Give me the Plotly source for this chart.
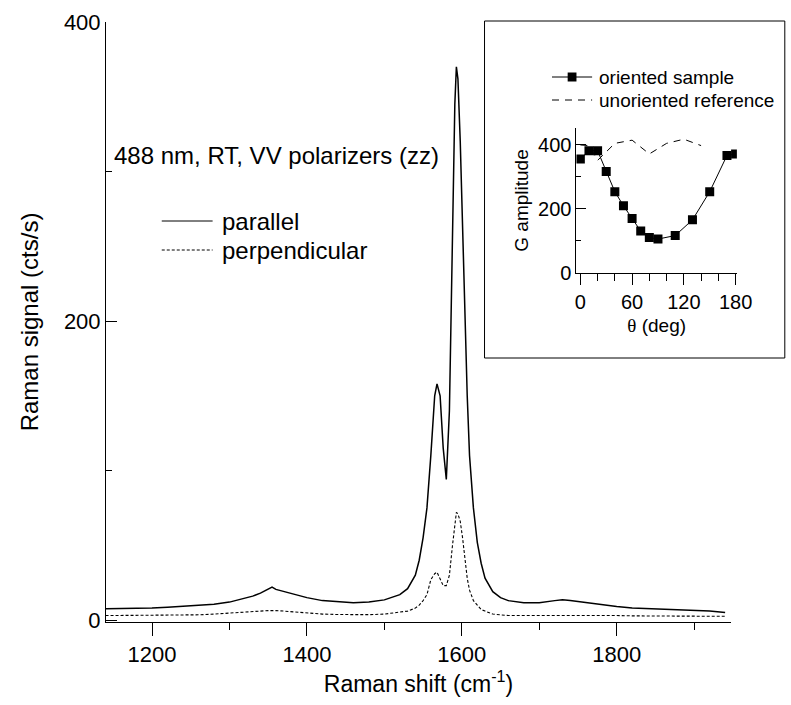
import plotly.graph_objects as go

# Raman spectra
shift = [1140, 1160, 1180, 1200, 1220, 1240, 1260, 1280, 1300, 1320, 1330, 1340,
         1350, 1355, 1360, 1370, 1380, 1400, 1420, 1440, 1460, 1480, 1500, 1520,
         1530, 1540, 1545, 1550, 1555, 1560, 1565, 1568, 1572, 1576, 1580, 1584,
         1588, 1591, 1593, 1595, 1598, 1601, 1604, 1607, 1610, 1615, 1620, 1625,
         1630, 1640, 1650, 1660, 1680, 1700, 1720, 1730, 1740, 1760, 1780, 1800,
         1820, 1840, 1860, 1880, 1900, 1920, 1940]
parallel = [7.5, 7.5, 7.8, 8, 8.5, 9, 9.5, 10.5, 12, 14.5, 16, 18,
            20.5, 22, 20.5, 19, 17.5, 15, 13, 12, 11.5, 12, 13.5, 17,
            21, 30, 40, 55, 75, 110, 150, 158, 150, 115, 94, 140,
            260, 345, 370, 362, 320, 260, 200, 150, 110, 75, 52, 38,
            28, 19, 15, 13, 11.5, 11.5, 13, 13.5, 13, 11.5, 10, 9,
            8, 7.5, 7, 7, 6.5, 6, 5]
perpendicular = [3, 3, 3, 3, 3.2, 3.4, 3.5, 4, 4.5, 5.2, 5.6, 6,
                 6.3, 6.5, 6.3, 6, 5.5, 4.8, 4, 3.7, 3.5, 3.6, 4, 5,
                 6, 8, 10, 13, 17, 27, 31, 32, 28, 23, 23, 30,
                 50, 66, 72, 71, 66, 55, 40, 28, 20, 13, 10, 7,
                 6, 4, 3.5, 3, 3, 3, 3.2, 3.5, 3.3, 3.1, 3, 3,
                 2.8, 2.8, 2.7, 2.6, 2.5, 2.5, 2.5]

# inset: G band amplitude vs rotation angle
theta = [0, 10, 20, 30, 40, 50, 60, 70, 80, 90, 110, 130, 150, 170, 180]
g_oriented = [356, 382, 382, 317, 254, 210, 170, 131, 111, 106, 117, 166, 254, 367, 372]
theta_ref = [0, 10, 20, 40, 60, 80, 100, 120, 140]
g_reference = [400, 398, 352, 405, 415, 372, 405, 418, 398]

FONT = "Liberation Sans, Arial, sans-serif"
W, H = 791, 705
# page pixels as measured on the reference
L, T, X_END, X_AXIS = 106, 22, 745, 622
R, B = 0, H - X_AXIS
PW, PH = W - L - R, H - T - B


# pixel -> paper fraction
def px(x):
    return (x - L) / PW


def py(y):
    return (X_AXIS - y) / PH


fig = go.Figure()
fig.add_trace(go.Scatter(x=shift, y=parallel, mode="lines", name="parallel",
                         line=dict(color="black", width=1.5)))
fig.add_trace(go.Scatter(x=shift, y=perpendicular, mode="lines", name="perpendicular",
                         line=dict(color="black", width=1.1, dash="3px,2px")))
fig.add_trace(go.Scatter(x=theta_ref, y=g_reference, mode="lines", xaxis="x2", yaxis="y2",
                         name="unoriented reference",
                         line=dict(color="black", width=1, dash="7px,6px")))
fig.add_trace(go.Scatter(x=theta, y=g_oriented, mode="lines+markers", xaxis="x2", yaxis="y2",
                         name="oriented sample", line=dict(color="black", width=1),
                         marker=dict(symbol="square", size=9, color="black")))

axis_common = dict(showline=True, linecolor="black", linewidth=1, showgrid=False,
                   zeroline=False, tickcolor="black", tickwidth=1, mirror=False)

fig.update_layout(
    width=W, height=H, showlegend=False,
    margin=dict(l=L, r=R, t=T, b=B),
    paper_bgcolor="white", plot_bgcolor="white",
    font=dict(family=FONT, color="black"),
    xaxis=dict(axis_common, domain=[0, px(X_END)], range=[1140.6, 1947.6],
               tickmode="linear", tick0=1200, dtick=200, ticks="outside", ticklen=13,
               minor=dict(dtick=100, tick0=1100, ticks="outside", ticklen=7, tickcolor="black"),
               tickfont=dict(size=22),
               title=dict(text="Raman shift (cm<sup>-1</sup>)", font=dict(size=23), standoff=6)),
    yaxis=dict(axis_common, range=[-1.3, 400], tickmode="linear", tick0=0, dtick=200,
               ticks="inside", ticklen=11,
               minor=dict(dtick=100, ticks="inside", ticklen=6, tickcolor="black"),
               tickfont=dict(size=22),
               title=dict(text="Raman signal (cts/s)", font=dict(size=24), standoff=18)),
    xaxis2=dict(axis_common, anchor="y2", domain=[px(587), px(751)], range=[-4.5, 181.5],
                tickmode="linear", tick0=0, dtick=60, ticks="outside", ticklen=11,
                minor=dict(dtick=20, ticks="outside", ticklen=7, tickcolor="black"),
                tickfont=dict(size=20),
                title=dict(text="<span style='font-family:Liberation Serif'>θ</span> (deg)",
                           font=dict(size=19), standoff=6)),
    yaxis2=dict(axis_common, anchor="x2", domain=[py(273), py(128)], range=[0, 453],
                tickmode="linear", tick0=0, dtick=200, ticks="inside", ticklen=10,
                minor=dict(dtick=100, ticks="inside", ticklen=5, tickcolor="black"),
                tickfont=dict(size=20),
                title=dict(text="G amplitude", font=dict(size=19), standoff=4)),
)

shapes = [
    # inset frame
    dict(type="rect", xref="paper", yref="paper", x0=px(493), x1=px(800), y0=py(358), y1=py(21),
         line=dict(color="black", width=1), fillcolor="white", layer="below"),
    # main legend keys
    dict(type="line", xref="paper", yref="paper", x0=px(163), x1=px(215), y0=py(221), y1=py(221),
         line=dict(color="black", width=1)),
    dict(type="line", xref="paper", yref="paper", x0=px(163), x1=px(215), y0=py(250), y1=py(250),
         line=dict(color="black", width=1, dash="3px,2px")),
    # inset legend keys
    dict(type="line", xref="paper", yref="paper", x0=px(562), x1=px(603), y0=py(77), y1=py(77),
         line=dict(color="black", width=1)),
    dict(type="rect", xref="paper", yref="paper", x0=px(578), x1=px(587), y0=py(81.5), y1=py(72.5),
         line=dict(color="black", width=0), fillcolor="black"),
    dict(type="line", xref="paper", yref="paper", x0=px(562), x1=px(603), y0=py(100), y1=py(100),
         line=dict(color="black", width=1, dash="7px,6px")),
]
fig.update_layout(shapes=shapes)

annotations = [
    dict(text="488 nm, RT, VV polarizers (zz)", x=px(112), y=py(155), font=dict(size=24)),
    dict(text="parallel", x=px(223), y=py(221), font=dict(size=24)),
    dict(text="perpendicular", x=px(223), y=py(250), font=dict(size=24)),
    dict(text="oriented sample", x=px(608), y=py(77), font=dict(size=19)),
    dict(text="unoriented reference", x=px(608), y=py(100), font=dict(size=19)),
]
for a in annotations:
    fig.add_annotation(xref="paper", yref="paper", xanchor="left", yanchor="middle",
                       showarrow=False, **a)

# page body margin off, so the 791x705 figure fills the window exactly
fig.write_html("out.html", config={"displayModeBar": False},
               post_script="document.body.style.margin = '0px';")
